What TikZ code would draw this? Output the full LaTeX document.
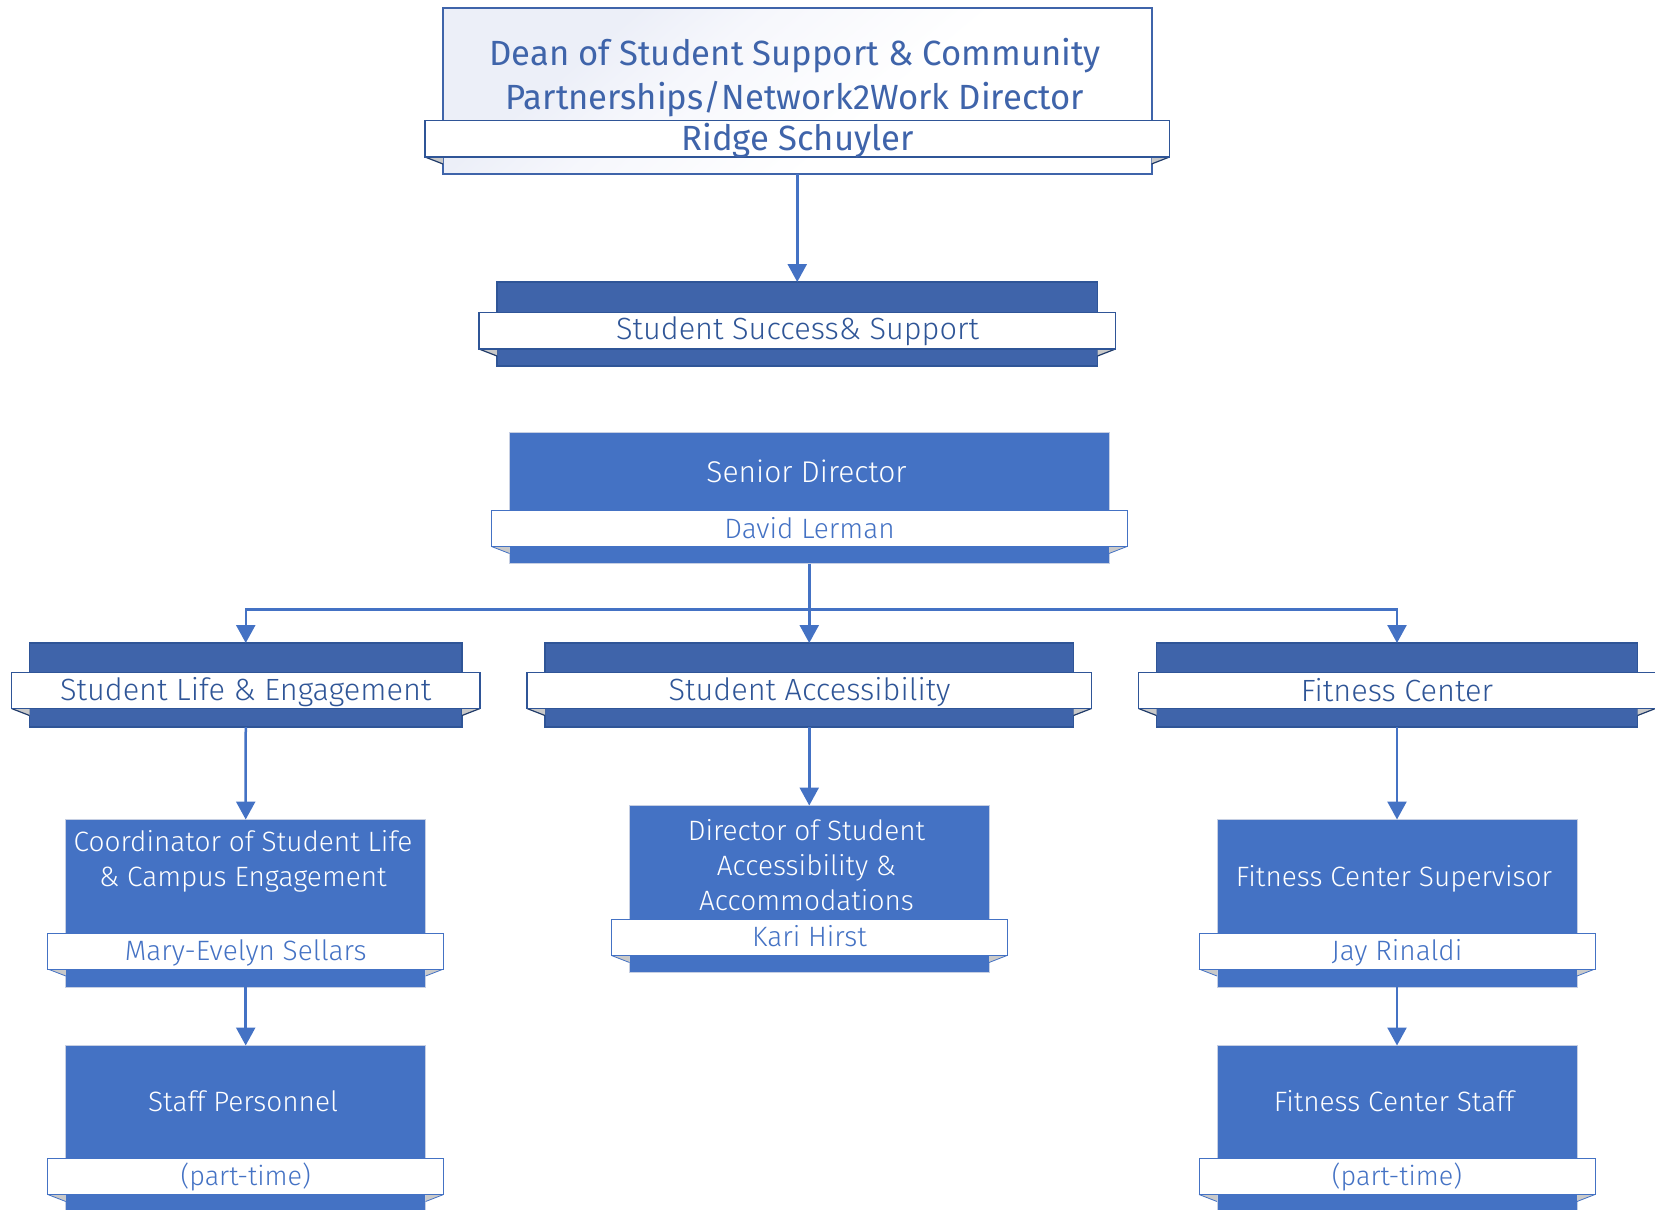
\documentclass[tikz,border=0pt]{standalone}
\usepackage{fontspec}
\setmainfont{Fira Sans Light}
\newfontfamily\bigfont[FakeStretch=0.99]{Fira Sans}
\usetikzlibrary{arrows.meta,calc}
\definecolor{blue1}{HTML}{4472C4}
\definecolor{blue2}{HTML}{3F64AA}
\definecolor{navy}{HTML}{2F5597}
\definecolor{edgel}{HTML}{C6CFE3}
\definecolor{foldg}{HTML}{C9C9C9}
\definecolor{fade}{HTML}{ECEFF8}
\definecolor{fade2}{HTML}{F6F7FC}
\pgfdeclarehorizontalshading{deanfade}{100bp}{color(0bp)=(fade); color(30bp)=(fade); color(40bp)=(fade2); color(58bp)=(white); color(100bp)=(white)}
\tikzset{
  x=1pt,y=-1pt,
  shp/.style={rectangle,inner sep=0pt,outer sep=0pt},
  lightbox/.style={shp,fill=blue1,draw=edgel,line width=1pt},
  darkbox/.style={shp,fill=blue2,draw=navy,line width=1.3pt},
  deanbox/.style={shp,draw=blue2,line width=2pt,shading=deanfade,shading angle=-50},
  lightrib/.style={shp,fill=white,draw=blue1,line width=1pt},
  darkrib/.style={shp,fill=white,draw=navy,line width=1.9pt},
  lightfold/.style={draw=blue1,line width=.8pt},
  darkfold/.style={draw=navy!70!black,line width=1.2pt},
  conn/.style={draw=blue1,line width=2.5pt,-{Triangle[length=18pt,width=19pt]}},
  txt/.style={inner sep=0pt,outer sep=0pt,align=center},
  big/.style={txt,text=blue2,font=\bigfont\fontsize{35}{44}\selectfont},
  head/.style={txt,text=navy,font=\fontsize{30.7}{36}\selectfont},
  wht/.style={txt,text=white,font=\fontsize{28}{35}\selectfont},
  nam/.style={txt,text=blue1,font=\fontsize{28}{35}\selectfont},
}
% name, box style, ribbon/fold kind, x1,y1,x2,y2, ribbon y1, y2
\newcommand{\orgcard}[9]{%
  \node[#2,minimum width={(#6-#4)*1pt},minimum height={(#7-#5)*1pt}] (#1) at ({(#4+#6)/2},{(#5+#7)/2}) {};
  \coordinate (#1-fl) at (#4-18,#9);
  \coordinate (#1-fr) at (#6+18,#9);
  \fill[foldg] (#1-fl) -- (#4,#9+7) -- (#4,#9) -- cycle;
  \fill[foldg] (#1-fr) -- (#6,#9+7) -- (#6,#9) -- cycle;
  \draw[#3fold] (#1-fl) -- (#4,#9+7);
  \draw[#3fold] (#1-fr) -- (#6,#9+7);
  \node[#3rib,minimum width={(#6-#4+36)*1pt},minimum height={(#9-#8)*1pt}] (#1-r) at ({(#4+#6)/2},{(#8+#9)/2}) {};
}
\begin{document}
\begin{tikzpicture}
\useasboundingbox (0,0) rectangle (1655,1210);
\orgcard{dean}{deanbox}{dark}{443}{7.5}{1151.5}{174}{120.5}{157}
\orgcard{succ}{darkbox}{dark}{497}{282}{1097.5}{366}{312.5}{349}
\orgcard{sen}{lightbox}{light}{509.5}{432.5}{1109}{563.5}{510.5}{546.5}
\orgcard{life}{darkbox}{dark}{29.5}{643}{462}{727}{672.5}{708.5}
\orgcard{acc}{darkbox}{dark}{545}{643}{1073.5}{727}{672.5}{708.5}
\orgcard{fit}{darkbox}{dark}{1156.5}{643}{1637.5}{727}{672.5}{708.5}
\orgcard{coord}{lightbox}{light}{65.8}{819.5}{425.6}{987}{933}{969}
\orgcard{dir}{lightbox}{light}{629.5}{805.5}{989}{972.5}{919}{955.5}
\orgcard{sup}{lightbox}{light}{1217}{819.5}{1577}{987}{933}{969}
\orgcard{staff}{lightbox}{light}{65.8}{1045.5}{425.6}{1216}{1158.5}{1194.5}
\orgcard{fstaff}{lightbox}{light}{1217}{1045.5}{1577}{1216}{1158.5}{1194.5}

\coordinate (bus) at (809.25,609.5);
\draw[conn] (dean.south) -- (succ.north);
\draw[conn] (sen.south) -- (acc.north);
\draw[conn] (bus) -| (life.north);
\draw[conn] (bus) -| (fit.north);
\draw[conn] (life.south) -- (coord.north);
\draw[conn] (acc.south) -- (dir.north);
\draw[conn] (fit.south) -- (sup.north);
\draw[conn] (coord.south) -- (staff.north);
\draw[conn] (sup.south) -- (fstaff.north);

\node[big] (t1) at (795,78) {Dean of Student Support \& Community\\Partnerships/Network2Work Director};
\node[big] (t2) at (797.5,141) {Ridge Schuyler};
\node[head] (t3) at (797.5,331.5) {Student Success\& Support};
\node[wht,font=\fontsize{30}{35}\selectfont] (t4) at (806.5,471) {Senior Director};
\node[nam] (t5) at (809.5,528) {David Lerman};
\node[head] (t6) at (245.7,692.5) {Student Life \& Engagement};
\node[head] (t7) at (809.5,692.5) {Student Accessibility};
\node[head] (t8) at (1397,690) {Fitness Center};
\node[wht] (t9) at (243,861) {Coordinator of Student Life\\\& Campus Engagement};
\node[nam] (t10) at (245.7,953) {Mary-Evelyn Sellars};
\node[wht] (t11) at (806.5,865) {Director of Student\\Accessibility \&\\Accommodations};
\node[nam] (t12) at (809.5,936) {Kari Hirst};
\node[wht] (t13) at (1394,879) {Fitness Center Supervisor};
\node[nam] (t14) at (1397,953) {Jay Rinaldi};
\node[wht] (t15) at (243,1101) {Staff Personnel};
\node[nam,font=\fontsize{27}{35}\selectfont] (t16) at (245.7,1177) {(part-time)};
\node[wht] (t17) at (1394,1101) {Fitness Center Staff};
\node[nam,font=\fontsize{27}{35}\selectfont] (t18) at (1397,1177) {(part-time)};
\end{tikzpicture}
\end{document}
